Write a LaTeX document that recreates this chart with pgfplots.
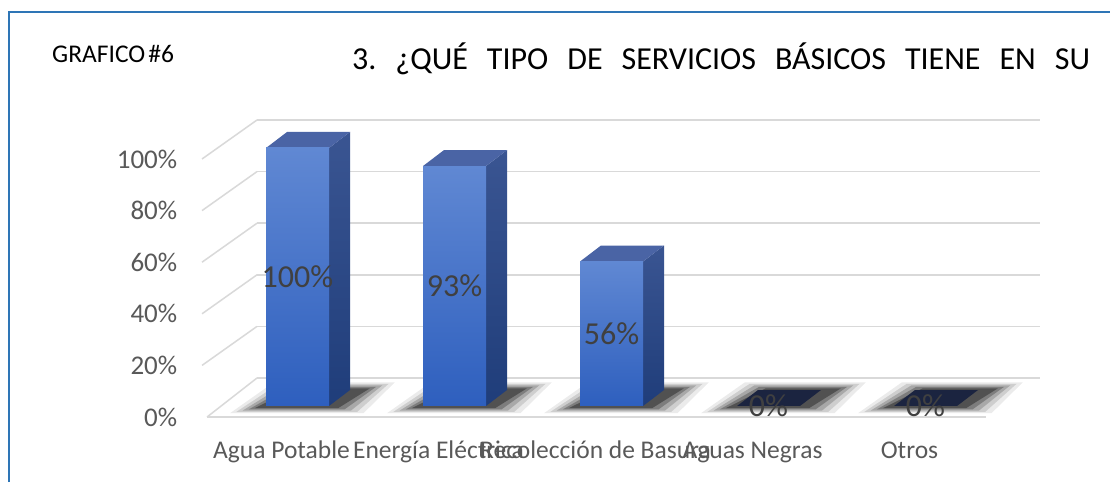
\documentclass[border=0pt]{standalone}
\usepackage{fontspec}
\setmainfont{Carlito}
\usepackage{pgfplots}
\pgfplotsset{compat=1.18}
\usepackage{pgfplotstable}
\definecolor{frameblue}{HTML}{2E75B6}
\definecolor{gridc}{HTML}{D9D9D9}
\definecolor{fronttop}{HTML}{6088D3}
\definecolor{frontbot}{HTML}{2E5FBE}
\definecolor{sidetop}{HTML}{3A5592}
\definecolor{sidebot}{HTML}{1F3D7A}
\definecolor{topc}{HTML}{4A64A5}
\definecolor{zeroc}{HTML}{1B2440}
\definecolor{labc}{HTML}{595959}
\definecolor{datac}{HTML}{404040}
\frenchspacing

\pgfplotstableread{
a b
-0.43 -2.8
0.42 -2.8
0.62 9.2
-0.15 9.2
}\shA
\pgfplotstableread{
a b
-0.39 -2.3
0.38 -2.3
0.58 8.6
-0.12 8.6
}\shB
\pgfplotstableread{
a b
-0.35 -1.8
0.34 -1.8
0.54 8.0
-0.09 8.0
}\shC
\pgfplotstableread{
a b
-0.31 -1.3
0.30 -1.3
0.50 7.4
-0.06 7.4
}\shD
\pgfplotstableread{
a b
-0.27 -0.8
0.26 -0.8
0.46 6.8
-0.02 6.8
}\shE

\begin{document}
\begin{tikzpicture}[x=1pt,y=1pt]
\useasboundingbox (0,0) rectangle (1110,482);
\fill[white] (0,0) rectangle (1110,482);
\draw[frameblue, line width=2pt] (8.5,0) -- (8.5,469.5) -- (1110,469.5);
\node[anchor=base west, inner sep=0pt, font=\fontsize{25.5}{30}\selectfont] at (52,419) {GRAFICO\hspace{0.12em}\#6};
\node[anchor=base west, inner sep=0pt, font=\fontsize{32}{38}\selectfont] at (352,412) {\makebox[738pt][s]{3. ¿QUÉ TIPO DE SERVICIOS BÁSICOS TIENE EN SU}};
\begin{axis}[
  at={(177.395pt,23.01pt)}, anchor=south west,
  x=157pt, y=2.58pt,
  xmin=-0.765, xmax=4.8, ymin=-20.54, ymax=116,
  clip=false,
  axis line style={draw=none},
  major tick length=0pt,
  xtick={0,1,2,3,4},
  xticklabels={Agua Potable,Energía Eléctrica,Recolección de Basura,Aguas Negras,Otros},
  ytick={-4.26,15.74,35.74,55.74,75.74,95.74},
  yticklabels={0\%,20\%,40\%,60\%,80\%,100\%},
  xticklabel style={anchor=base, xshift=-16pt, inner sep=0pt, font=\fontsize{25.5}{30}\selectfont, text=labc},
  yticklabel style={anchor=east, inner sep=0pt, font=\fontsize{27}{32}\selectfont, text=labc},
]
% back wall gridlines
\addplot[gridc, line width=1.5pt] coordinates {(-0.258,10.85) (4.729,10.85)};
\addplot[gridc, line width=1.5pt] coordinates {(-0.258,30.85) (4.729,30.85)};
\addplot[gridc, line width=1.5pt] coordinates {(-0.258,50.85) (4.729,50.85)};
\addplot[gridc, line width=1.5pt] coordinates {(-0.258,70.85) (4.729,70.85)};
\addplot[gridc, line width=1.5pt] coordinates {(-0.258,90.85) (4.729,90.85)};
\addplot[gridc, line width=1.5pt] coordinates {(-0.258,110.85) (4.729,110.85)};
% left wall diagonals
\addplot[gridc, line width=1.5pt] coordinates {(-0.576,-4.26) (-0.258,10.85)};
\addplot[gridc, line width=1.5pt] coordinates {(-0.608,15.74) (-0.258,30.85)};
\addplot[gridc, line width=1.5pt] coordinates {(-0.608,35.74) (-0.258,50.85)};
\addplot[gridc, line width=1.5pt] coordinates {(-0.608,55.74) (-0.258,70.85)};
\addplot[gridc, line width=1.5pt] coordinates {(-0.608,75.74) (-0.258,90.85)};
\addplot[gridc, line width=1.5pt] coordinates {(-0.608,95.74) (-0.258,110.85)};
% floor front edge
\addplot[gridc, line width=1.5pt] coordinates {(-0.576,-4.26) (4.385,-4.26)};
% shadows
\pgfplotsinvokeforeach{0,1,2,3,4}{
  \addplot[draw=none, fill=black, fill opacity=0.08] table[x expr=\thisrow{a}+#1, y=b] {\shA};
  \addplot[draw=none, fill=black, fill opacity=0.12] table[x expr=\thisrow{a}+#1, y=b] {\shB};
  \addplot[draw=none, fill=black, fill opacity=0.18] table[x expr=\thisrow{a}+#1, y=b] {\shC};
  \addplot[draw=none, fill=black, fill opacity=0.25] table[x expr=\thisrow{a}+#1, y=b] {\shD};
  \addplot[draw=none, fill=black, fill opacity=0.35] table[x expr=\thisrow{a}+#1, y=b] {\shE};
}
% bar 1: 100
\addplot[draw=none, top color=sidetop, bottom color=sidebot] coordinates {(0.2006,0) (0.3344,6.2) (0.3344,106.2) (0.2006,100)} --cycle;
\addplot[draw=none, fill=topc] coordinates {(-0.2006,100) (0.2006,100) (0.3344,106.2) (-0.0668,106.2)} --cycle;
\addplot[ybar, bar width=0.4013, bar shift=0pt, draw=none, top color=fronttop, bottom color=frontbot] coordinates {(0,100)};
% bar 2: 93
\addplot[draw=none, top color=sidetop, bottom color=sidebot] coordinates {(1.2006,0) (1.3344,6.2) (1.3344,99.2) (1.2006,93)} --cycle;
\addplot[draw=none, fill=topc] coordinates {(0.7994,93) (1.2006,93) (1.3344,99.2) (0.9332,99.2)} --cycle;
\addplot[ybar, bar width=0.4013, bar shift=0pt, draw=none, top color=fronttop, bottom color=frontbot] coordinates {(1,93)};
% bar 3: 56
\addplot[draw=none, top color=sidetop, bottom color=sidebot] coordinates {(2.2006,0) (2.3344,6.2) (2.3344,62.2) (2.2006,56)} --cycle;
\addplot[draw=none, fill=topc] coordinates {(1.7994,56) (2.2006,56) (2.3344,62.2) (1.9332,62.2)} --cycle;
\addplot[ybar, bar width=0.4013, bar shift=0pt, draw=none, top color=fronttop, bottom color=frontbot] coordinates {(2,56)};
% bars 4 and 5: 0
\addplot[draw=none, fill=zeroc] coordinates {(2.7994,0) (3.2006,0) (3.3344,6.2) (2.9332,6.2)} --cycle;
\addplot[draw=none, fill=zeroc] coordinates {(3.7994,0) (4.2006,0) (4.3344,6.2) (3.9332,6.2)} --cycle;
% data labels
\addplot[draw=none, mark=none, nodes near coords, point meta=explicit symbolic,
  nodes near coords style={anchor=center, inner sep=0pt, font=\fontsize{32}{38}\selectfont, text=datac}]
  coordinates {(0,50) [100\%] (1,46.5) [93\%] (2,28) [56\%] (3,0) [0\%] (4,0) [0\%]};
\end{axis}
\end{tikzpicture}
\end{document}
